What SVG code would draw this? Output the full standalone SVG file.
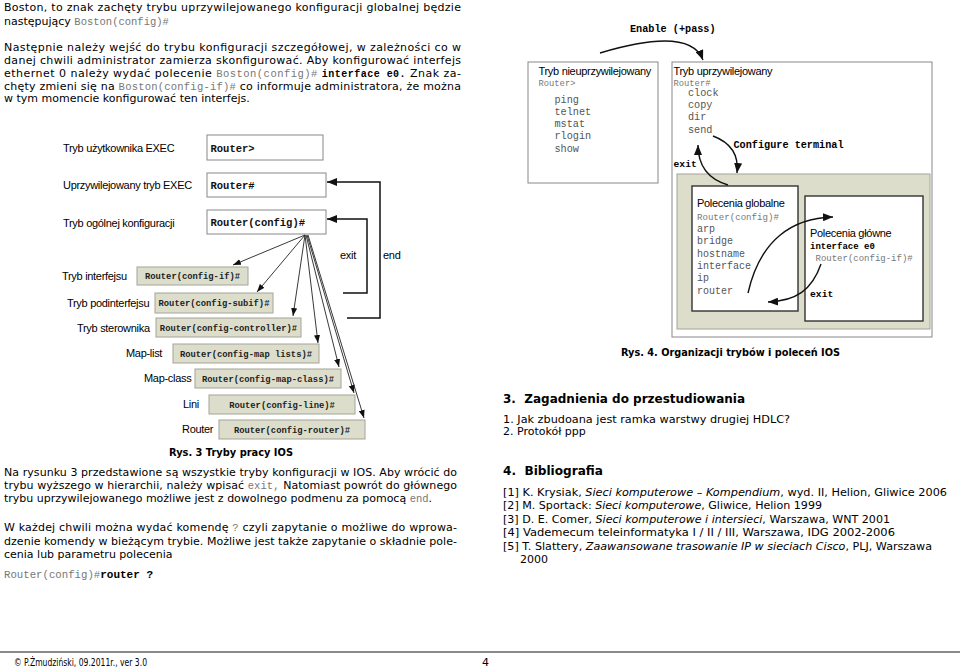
<svg xmlns="http://www.w3.org/2000/svg" width="960" height="669" viewBox="0 0 960 669">
<style>
.t{font-family:"DejaVu Sans",Verdana,sans-serif;font-size:11px;fill:#000}
.tb{font-family:"DejaVu Sans",Verdana,sans-serif;font-weight:bold;fill:#000}
.m{font-family:"Liberation Mono","Courier New",monospace}
.mb{font-family:"Liberation Mono","Courier New",monospace;font-weight:bold}
.gr{fill:#777}
.cm{fill:#555}
.lbl{font-family:"Liberation Sans",Arial,sans-serif;font-size:11px;letter-spacing:-0.3px;fill:#000}
.box{fill:#fff;stroke:#888;stroke-width:1}
.gbox{fill:#dcdecb;stroke:#a4a49a;stroke-width:1}
.dbox{fill:#fff;stroke:#333;stroke-width:1.4}
.gt{font-family:"Liberation Mono","Courier New",monospace;font-weight:bold;font-size:8.8px;text-anchor:middle;fill:#222}
.wt{font-family:"Liberation Mono","Courier New",monospace;font-weight:bold;font-size:10.5px;fill:#111}
.fan{fill:none;stroke:#222;stroke-width:0.9}
.rt{fill:none;stroke:#111;stroke-width:1.5}
.cv{fill:none;stroke:#111;stroke-width:1.4}
</style>
<defs>
<marker id="as" markerUnits="userSpaceOnUse" markerWidth="8" markerHeight="6" refX="8" refY="3" orient="auto"><path d="M0,0 L8,3 L0,6 z" fill="#111"/></marker>
<marker id="al" markerUnits="userSpaceOnUse" markerWidth="10" markerHeight="8" refX="10" refY="4" orient="auto"><path d="M0,0 L10,4 L0,8 z" fill="#111"/></marker>
</defs>

<g id="text-top">
<text class="t" x="4" y="11" textLength="457" lengthAdjust="spacing">Boston, to znak zachęty trybu uprzywilejowanego konfiguracji globalnej będzie</text>
<text class="t" x="4" y="24.5">następujący <tspan class="m gr" font-size="10.5">Boston(config)#</tspan></text>
<text class="t" x="4" y="51" textLength="457" lengthAdjust="spacing">Następnie należy wejść do trybu konfiguracji szczegółowej, w zależności co w</text>
<text class="t" x="4" y="63.5" textLength="457" lengthAdjust="spacing">danej chwili administrator zamierza skonfigurować. Aby konfigurować interfejs</text>
<text class="t" x="4" y="76.5" textLength="457" lengthAdjust="spacing">ethernet 0 należy wydać polecenie <tspan class="m gr" font-size="10.5">Boston(config)#</tspan> <tspan class="mb" font-size="10">interface e0.</tspan> Znak za-</text>
<text class="t" x="4" y="89.5" textLength="457" lengthAdjust="spacing">chęty zmieni się na <tspan class="m gr" font-size="10.5">Boston(config-if)#</tspan> co informuje administratora, że można</text>
<text class="t" x="4" y="102">w tym momencie konfigurować ten interfejs.</text>
</g>

<g id="n-user">
<text class="lbl" x="63" y="152">Tryb użytkownika EXEC</text>
<rect class="box" x="207" y="135" width="116" height="25"/>
<text class="wt" x="210.5" y="152">Router&gt;</text>
</g>
<g id="n-priv">
<text class="lbl" x="63" y="189">Uprzywilejowany tryb EXEC</text>
<rect class="box" x="207" y="173" width="119" height="24"/>
<text class="wt" x="210.5" y="189">Router#</text>
</g>
<g id="n-config">
<text class="lbl" x="63" y="226.5">Tryb ogólnej konfiguracji</text>
<rect class="box" x="207" y="210" width="119" height="24"/>
<text class="wt" x="210.5" y="226">Router(config)#</text>
</g>
<g id="n-if">
<text class="lbl" x="62" y="280">Tryb interfejsu</text>
<rect class="gbox" x="137" y="267" width="111" height="18"/>
<text class="gt" x="192.5" y="279">Router(config-if)#</text>
</g>
<g id="n-subif">
<text class="lbl" x="67" y="306.5">Tryb podinterfejsu</text>
<rect class="gbox" x="155" y="293" width="118" height="20"/>
<text class="gt" x="214" y="306">Router(config-subif)#</text>
</g>
<g id="n-ctrl">
<text class="lbl" x="77" y="331.5">Tryb sterownika</text>
<rect class="gbox" x="156" y="318" width="145" height="19"/>
<text class="gt" x="228.5" y="330.5">Router(config-controller)#</text>
</g>
<g id="n-maplist">
<text class="lbl" x="126" y="357">Map-list</text>
<rect class="gbox" x="173" y="344" width="146" height="19"/>
<text class="gt" x="246" y="356.5">Router(config-map lists)#</text>
</g>
<g id="n-mapclass">
<text class="lbl" x="144" y="382">Map-class</text>
<rect class="gbox" x="195" y="369" width="146" height="19"/>
<text class="gt" x="268" y="381.5">Router(config-map-class)#</text>
</g>
<g id="n-line">
<text class="lbl" x="183" y="408">Lini</text>
<rect class="gbox" x="209" y="395" width="146" height="19"/>
<text class="gt" x="282" y="407.5">Router(config-line)#</text>
</g>
<g id="n-router">
<text class="lbl" x="182" y="433">Router</text>
<rect class="gbox" x="219" y="420" width="146" height="19"/>
<text class="gt" x="292" y="432.5">Router(config-router)#</text>
</g>
<text class="lbl" x="340" y="259">exit</text>
<text class="lbl" x="383" y="259">end</text>
<text class="tb" x="231" y="455.5" font-size="10.5" text-anchor="middle" textLength="124" lengthAdjust="spacingAndGlyphs">Rys. 3 Tryby pracy IOS</text>

<g id="text-bottom-left">
<text class="t" x="4" y="475.5" textLength="453" lengthAdjust="spacing">Na rysunku 3 przedstawione są wszystkie tryby konfiguracji w IOS. Aby wrócić do</text>
<text class="t" x="4" y="489" textLength="453" lengthAdjust="spacing">trybu wyższego w hierarchii, należy wpisać <tspan class="m gr" font-size="10.5">exit,</tspan>  Natomiast powrót do głównego</text>
<text class="t" x="4" y="502">trybu uprzywilejowanego możliwe jest z dowolnego podmenu za pomocą <tspan class="m gr" font-size="10.5">end</tspan>.</text>
<text class="t" x="4" y="531" textLength="453" lengthAdjust="spacing">W każdej chwili można wydać komendę <tspan class="m gr" font-size="10.5">?</tspan>  czyli zapytanie o możliwe do wprowa-</text>
<text class="t" x="4" y="544.5" textLength="453" lengthAdjust="spacing">dzenie komendy w bieżącym trybie. Możliwe jest także zapytanie o składnie pole-</text>
<text class="t" x="4" y="557.5">cenia lub parametru polecenia</text>
<text class="m gr" x="4" y="577.5" font-size="10.7">Router(config)#<tspan class="mb" fill="#000" font-size="11">router ?</tspan></text>
</g>

<g id="n-unpriv">
<rect class="box" x="528" y="62" width="130" height="121"/>
<text class="lbl" x="538.5" y="75">Tryb nieuprzywilejowany</text>
<text class="m gr" x="538.5" y="86" font-size="8.8">Router&gt;</text>
<g class="m cm" font-size="10.2">
<text x="554.5" y="102.5">ping</text>
<text x="554.5" y="114.8">telnet</text>
<text x="554.5" y="127.1">mstat</text>
<text x="554.5" y="139.4">rlogin</text>
<text x="554.5" y="151.7">show</text>
</g>
</g>
<text class="mb" x="630" y="32" font-size="10.2">Enable (+pass)</text>

<g id="n-privmode">
<rect class="box" x="672" y="62" width="260" height="275"/>
<text class="lbl" x="673.5" y="75">Tryb uprzywilejowany</text>
<text class="m gr" x="673.5" y="85.5" font-size="8.8">Router#</text>
<g class="m cm" font-size="10.2">
<text x="688" y="95.5">clock</text>
<text x="688" y="108">copy</text>
<text x="688" y="120.3">dir</text>
<text x="688" y="132.6">send</text>
</g>
<text class="mb" x="733.5" y="147.5" font-size="10.2">Configure terminal</text>
<text class="mb" x="673.5" y="167" font-size="9.7">exit</text>
<rect class="gbox" x="677" y="174" width="253" height="155"/>
</g>

<g id="n-global">
<rect class="dbox" x="692" y="186" width="106" height="125"/>
<text class="lbl" x="697" y="206.5">Polecenia globalne</text>
<text class="m gr" x="697" y="220" font-size="9.1">Router(config)#</text>
<g class="m cm" font-size="10">
<text x="697" y="231.7">arp</text>
<text x="697" y="244">bridge</text>
<text x="697" y="256.5">hostname</text>
<text x="697" y="269">interface</text>
<text x="697" y="281.2">ip</text>
<text x="697" y="293.5">router</text>
</g>
</g>

<g id="n-main">
<rect class="dbox" x="805" y="196" width="118" height="125"/>
<text class="lbl" x="810" y="236.5">Polecenia główne</text>
<text class="mb" x="810" y="248.5" font-size="9">interface e0</text>
<text class="m gr" x="815.5" y="261" font-size="9">Router(config-if)#</text>
<text class="mb" x="810" y="297" font-size="9.7">exit</text>
</g>

<text class="tb" x="730.5" y="356" font-size="10.5" text-anchor="middle" textLength="219" lengthAdjust="spacingAndGlyphs">Rys. 4. Organizacji trybów i poleceń IOS</text>

<g id="text-right">
<text class="tb" x="503" y="403" font-size="12.5" textLength="242" lengthAdjust="spacingAndGlyphs" xml:space="preserve">3.  Zagadnienia do przestudiowania</text>
<text class="t" x="503" y="422.5" textLength="287" lengthAdjust="spacingAndGlyphs">1. Jak zbudoana jest ramka warstwy drugiej HDLC?</text>
<text class="t" x="503" y="435">2. Protokół ppp</text>
<text class="tb" x="503" y="475" font-size="12.5" textLength="100" lengthAdjust="spacingAndGlyphs" xml:space="preserve">4.  Bibliografia</text>
<text class="t" x="503" y="495.5" textLength="444" lengthAdjust="spacingAndGlyphs">[1] K. Krysiak, <tspan font-style="italic">Sieci komputerowe – Kompendium</tspan>, wyd. II, Helion, Gliwice 2006</text>
<text class="t" x="503" y="509" textLength="319" lengthAdjust="spacingAndGlyphs">[2] M. Sportack: <tspan font-style="italic">Sieci komputerowe</tspan>, Gliwice, Helion 1999</text>
<text class="t" x="503" y="522.5" textLength="387" lengthAdjust="spacingAndGlyphs">[3] D. E. Comer, <tspan font-style="italic">Sieci komputerowe i intersieci</tspan>, Warszawa, WNT 2001</text>
<text class="t" x="503" y="536" textLength="392" lengthAdjust="spacingAndGlyphs">[4] Vademecum teleinformatyka I / II / III, Warszawa, IDG 2002-2006</text>
<text class="t" x="503" y="549.5" textLength="429" lengthAdjust="spacingAndGlyphs">[5] T. Slattery, <tspan font-style="italic">Zaawansowane trasowanie IP w sieciach Cisco</tspan>, PLJ, Warszawa</text>
<text class="t" x="520" y="563">2000</text>
</g>

<g id="footer">
<line x1="0" y1="652" x2="960" y2="652" stroke="#8a8a8a" stroke-width="1.8"/>
<text class="t" x="14" y="665.5" font-size="8" textLength="133" lengthAdjust="spacingAndGlyphs">© P.Żmudziński, 09.2011r., ver 3.0</text>
<text class="t" x="482" y="665.5" font-size="8">4</text>
</g>

<g id="connectors">
<path class="rt" d="M347,318 H380 V182 H327" marker-end="url(#al)"/>
<path class="rt" d="M343,293 H367 V219 H327" marker-end="url(#al)"/>
<line class="fan" x1="305" y1="235" x2="233" y2="265" marker-end="url(#as)"/>
<line class="fan" x1="305" y1="235" x2="257" y2="292" marker-end="url(#as)"/>
<line class="fan" x1="305" y1="235" x2="293" y2="316" marker-end="url(#as)"/>
<line class="fan" x1="305" y1="235" x2="318" y2="343" marker-end="url(#as)"/>
<line class="fan" x1="306" y1="235" x2="339" y2="367" marker-end="url(#as)"/>
<line class="fan" x1="307" y1="235" x2="354" y2="393" marker-end="url(#as)"/>
<line class="fan" x1="308" y1="235" x2="364" y2="418" marker-end="url(#as)"/>
<path class="cv" d="M600,53 Q690,26 703,60" marker-end="url(#al)"/>
<path class="cv" d="M713,136 Q740,146 737,173" marker-end="url(#al)"/>
<path class="cv" d="M728,185 Q698,176 698,145" marker-end="url(#al)"/>
<path class="cv" d="M748,293 C760,240 792,218 833,217" marker-end="url(#al)"/>
<path class="cv" d="M821,264 C812,290 796,301 768,302" marker-end="url(#al)"/>
</g>
</svg>
